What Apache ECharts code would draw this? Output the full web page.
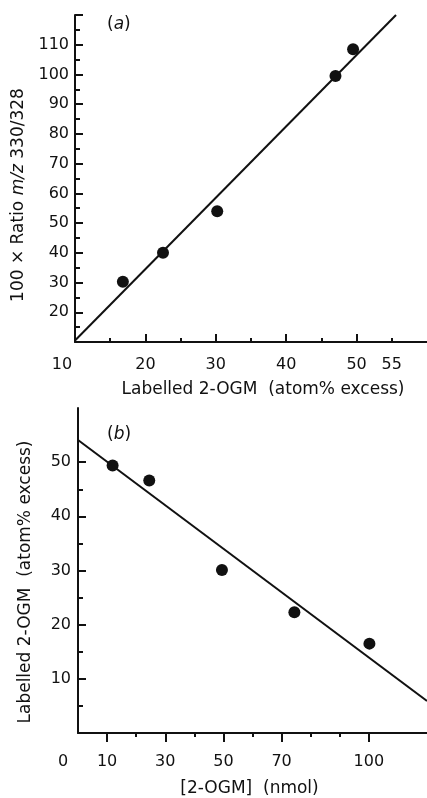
<!DOCTYPE html>
<html><head><meta charset="utf-8">
<script src="https://cdn.jsdelivr.net/npm/echarts@6/dist/echarts.min.js"></script>
<style>html,body{margin:0;padding:0;background:#fff}#c{width:427px;height:798px}</style>
</head><body><div id="c"></div>
<script>
// Panel (a)
const pointsA = [[16.8,30.3],[22.5,40.0],[30.2,54.0],[47.0,99.5],[49.5,108.5]];
const fitA = [[10,10.5],[55.6,120]];
const xLabelsA = [10,20,30,40,50,55];
const xMajorTicksA = [20,30,40,50];
const xMinorTicksA = [15,25,35,45,55];
const yLabelsA = [20,30,40,50,60,70,80,90,100,110];
const yMajorTicksA = [20,30,40,50,60,70,80,90,100,110,120];
const yMinorTicksA = [15,25,35,45,55,65,75,85,95,105,115];
// Panel (b)
const pointsB = [[11.9,49.4],[24.5,46.6],[49.5,30.1],[74.4,22.3],[100.2,16.5]];
const fitB = [[0,54.1],[120,5.9]];
const xLabelsB = [0,10,30,50,70,100];
const xMajorTicksB = [10,30,50,70,100];
const xMinorTicksB = [20,40,60,80,90];
const yLabelsB = [10,20,30,40,50];
const yMajorTicksB = [10,20,30,40,50];
const yMinorTicksB = [5,15,25,35,45];

const INK = '#111';
const FONT = 'DejaVu Sans';
const TS = 16, NS = 17;
const lbl = {color: INK, fontFamily: FONT, fontSize: TS};
const line = {lineStyle: {color: INK, width: 2}};
function base(extra){
  return Object.assign({splitLine:{show:false}, axisLine:{show:false}}, extra);
}
const chart = echarts.init(document.getElementById('c'));
chart.setOption({
  animation: false,
  backgroundColor: '#fff',
  title: [
    {text: '({i|a})', left: 102, top: 11, textStyle: {color: INK, fontFamily: FONT, fontSize: 17, fontWeight: 'normal', rich: {i: {fontStyle: 'italic', fontFamily: FONT, fontSize: 17, color: INK}}}},
    {text: '({i|b})', left: 102, top: 421, textStyle: {color: INK, fontFamily: FONT, fontSize: 17, fontWeight: 'normal', rich: {i: {fontStyle: 'italic', fontFamily: FONT, fontSize: 17, color: INK}}}}
  ],
  grid: [
    {left: 75, top: 15, bottom: 456, right: -5.5},
    {left: 78, top: 408, bottom: 62, right: -7.4}
  ],
  xAxis: [
    base({gridIndex: 0, type: 'value', position: 'bottom', min: 10, max: 60,
      axisLine: {show: true, lineStyle: {color: INK, width: 2}},
      axisTick: {show: true, inside: true, length: 8, customValues: xMajorTicksA, lineStyle: {color: INK, width: 2}},
      axisLabel: Object.assign({margin: 15, customValues: xLabelsA,
        formatter: v => v === 10 ? '{o|10}' : String(v), rich: {o: {padding: [0, 26, 0, 0], fontFamily: FONT, fontSize: TS, color: INK}}}, lbl),
      name: 'Labelled 2-OGM  (atom% excess)', nameLocation: 'middle', nameGap: 39,
      nameTextStyle: {color: INK, fontFamily: FONT, fontSize: NS, padding: [0, 0, 0, 24]}}),
    base({gridIndex: 0, type: 'value', position: 'bottom', min: 10, max: 60,
      axisTick: {show: true, inside: true, length: 4, customValues: xMinorTicksA, lineStyle: {color: INK, width: 2}},
      axisLabel: {show: false}}),
    base({gridIndex: 1, type: 'value', position: 'bottom', min: 0, max: 120,
      axisLine: {show: true, lineStyle: {color: INK, width: 2}},
      axisTick: {show: true, inside: false, length: 9, customValues: xMajorTicksB, lineStyle: {color: INK, width: 2}},
      axisLabel: Object.assign({margin: 21, customValues: xLabelsB,
        formatter: v => v === 0 ? '{o|0}' : String(v), rich: {o: {padding: [0, 30, 0, 0], fontFamily: FONT, fontSize: TS, color: INK}}}, lbl),
      name: '[2-OGM]  (nmol)', nameLocation: 'middle', nameGap: 47,
      nameTextStyle: {color: INK, fontFamily: FONT, fontSize: NS, padding: [0, 6, 0, 0]}}),
    base({gridIndex: 1, type: 'value', position: 'bottom', min: 0, max: 120,
      axisTick: {show: true, inside: false, length: 4, customValues: xMinorTicksB, lineStyle: {color: INK, width: 2}},
      axisLabel: {show: false}})
  ],
  yAxis: [
    base({gridIndex: 0, type: 'value', position: 'left', min: 10, max: 120,
      axisLine: {show: true, lineStyle: {color: INK, width: 2}},
      axisTick: {show: true, inside: true, length: 8, customValues: yMajorTicksA, lineStyle: {color: INK, width: 2}},
      axisLabel: Object.assign({margin: 6, customValues: yLabelsA}, lbl),
      name: '100 × Ratio {i|m/z} 330/328', nameLocation: 'middle', nameGap: 36,
      nameTextStyle: {color: INK, fontFamily: FONT, fontSize: NS, padding: [0, 33, 0, 0],
        rich: {i: {fontStyle: 'italic', fontFamily: FONT, fontSize: NS, color: INK}}}}),
    base({gridIndex: 0, type: 'value', position: 'left', min: 10, max: 120,
      axisTick: {show: true, inside: true, length: 5, customValues: yMinorTicksA, lineStyle: {color: INK, width: 2}},
      axisLabel: {show: false}}),
    base({gridIndex: 1, type: 'value', position: 'left', min: 0, max: 60,
      axisLine: {show: true, lineStyle: {color: INK, width: 2}},
      axisTick: {show: true, inside: true, length: 8, customValues: yMajorTicksB, lineStyle: {color: INK, width: 2}},
      axisLabel: Object.assign({margin: 7, customValues: yLabelsB}, lbl),
      name: 'Labelled 2-OGM  (atom% excess)', nameLocation: 'middle', nameGap: 44,
      nameTextStyle: {color: INK, fontFamily: FONT, fontSize: NS, padding: [0, 23, 0, 0]}}),
    base({gridIndex: 1, type: 'value', position: 'left', min: 0, max: 60,
      axisTick: {show: true, inside: true, length: 5, customValues: yMinorTicksB, lineStyle: {color: INK, width: 2}},
      axisLabel: {show: false}})
  ],
  series: [
    Object.assign({type: 'line', xAxisIndex: 0, yAxisIndex: 0, data: fitA, symbol: 'none', silent: true}, line),
    {type: 'scatter', xAxisIndex: 0, yAxisIndex: 0, data: pointsA, symbolSize: 12, itemStyle: {color: INK, opacity: 1}},
    Object.assign({type: 'line', xAxisIndex: 2, yAxisIndex: 2, data: fitB, symbol: 'none', silent: true}, line),
    {type: 'scatter', xAxisIndex: 2, yAxisIndex: 2, data: pointsB, symbolSize: 12, itemStyle: {color: INK, opacity: 1}}
  ]
});
</script></body></html>
